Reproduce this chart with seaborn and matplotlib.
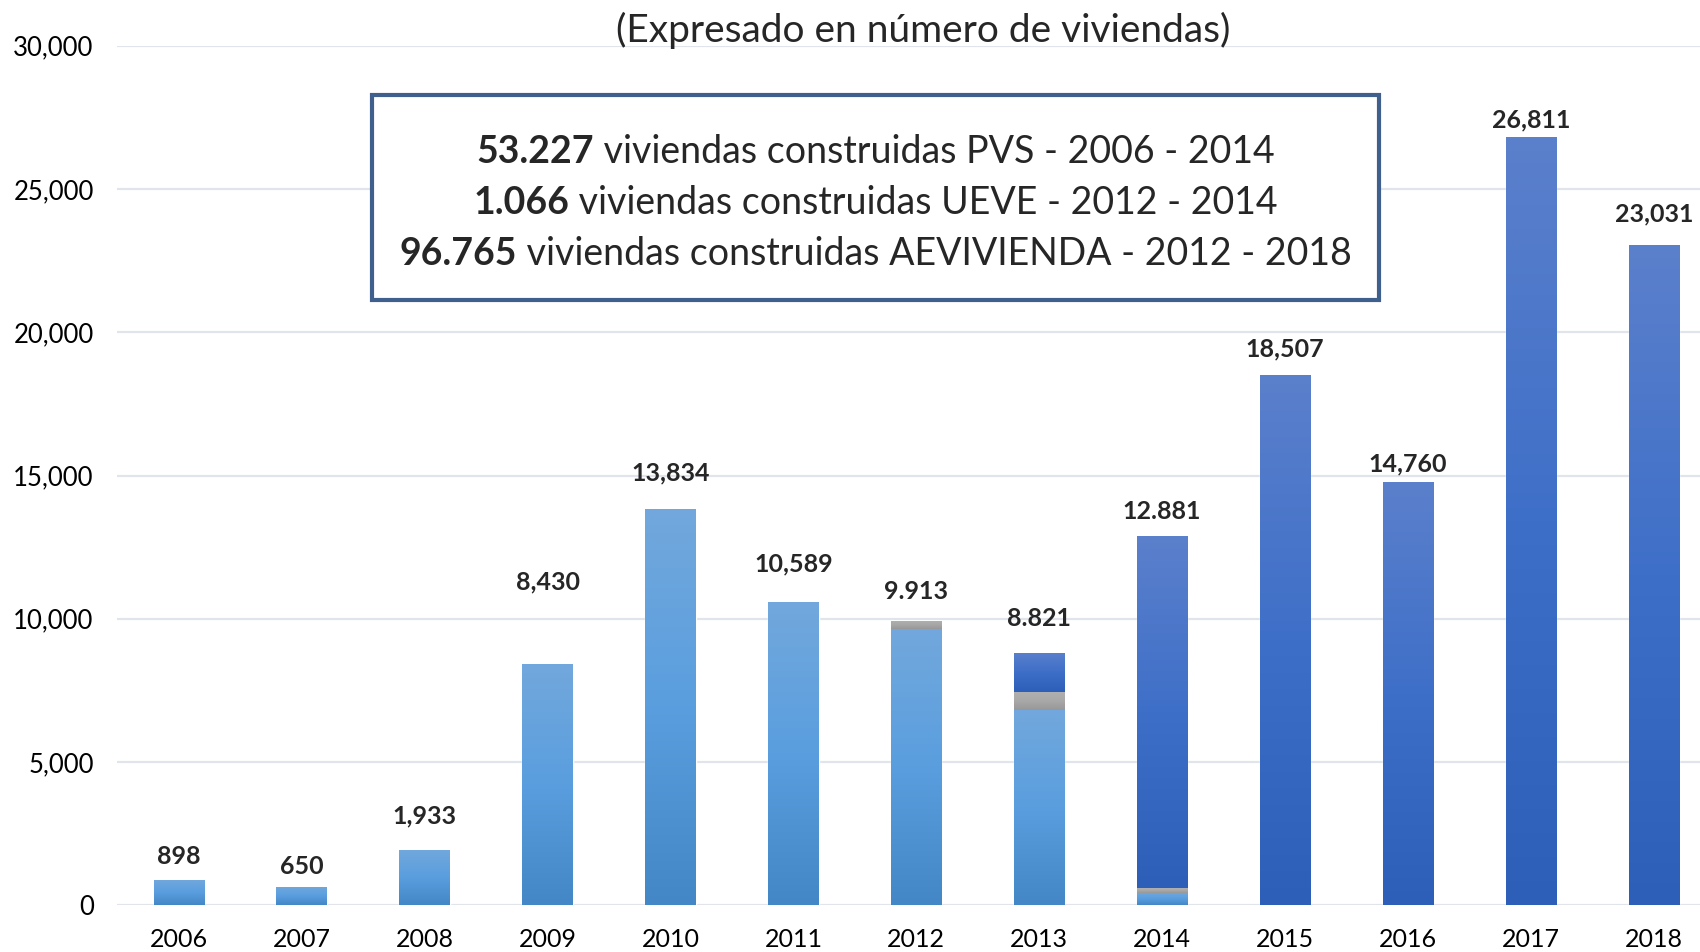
import numpy as np
import pandas as pd
import matplotlib
matplotlib.use("Agg")
import matplotlib.pyplot as plt
import matplotlib.patches as mpatches
from matplotlib.colors import LinearSegmentedColormap
import seaborn as sns

sns.set_style("white")
plt.rcParams['font.family'] = ['Lato', 'DejaVu Sans']

# Data
years = ["2006", "2007", "2008", "2009", "2010", "2011", "2012",
         "2013", "2014", "2015", "2016", "2017", "2018"]
pvs = [898, 650, 1933, 8430, 13834, 10589, 9633, 6830, 430, 0, 0, 0, 0]
ueve = [0, 0, 0, 0, 0, 0, 280, 616, 170, 0, 0, 0, 0]
aevivienda = [0, 0, 0, 0, 0, 0, 0, 1375, 12281, 18507, 14760, 26811, 23031]
labels = ["898", "650", "1,933", "8,430", "13,834", "10,589", "9.913",
          "8.821", "12.881", "18,507", "14,760", "26,811", "23,031"]
title = "(Expresado en número de viviendas)"
box_lines = [("53.227", " viviendas construidas PVS - 2006 - 2014"),
             ("1.066", " viviendas construidas UEVE - 2012 - 2014"),
             ("96.765", " viviendas construidas AEVIVIENDA - 2012 - 2018")]

# label distance above each bar (points), placed by hand in the original
label_pad = [16.4, 14.8, 24.2, 59.3, 25.7, 27.3, 21.8, 24.2, 17.9, 18.7, 13.3, 12.5, 22.6]

df = pd.DataFrame({"year": years, "pvs": pvs, "ueve": ueve, "aev": aevivienda})
df["base_aev"] = df["pvs"] + df["ueve"]
df["total"] = df["base_aev"] + df["aev"]

fig = plt.figure(figsize=(17, 9.52), dpi=100)
ax = fig.add_axes([0.069, 0.049, 0.94, 0.903])

bw = 0.41
sns.barplot(data=df, x="year", y="pvs", color="#5B9BD5", width=bw, saturation=1, ax=ax)
sns.barplot(data=df, x="year", y="ueve", bottom=df["pvs"], color="#A5A5A5", width=bw, saturation=1, ax=ax)
sns.barplot(data=df, x="year", y="aev", bottom=df["base_aev"], color="#4472C4", width=bw, saturation=1, ax=ax)

# vertical gradients on each segment, like the office-style fill
grads = {
    "pvs": LinearSegmentedColormap.from_list("g1", ["#4387C6", "#5A9EDF", "#72A8DC"]),
    "ueve": LinearSegmentedColormap.from_list("g2", ["#989898", "#A8A8A8", "#B0B0B0"]),
    "aev": LinearSegmentedColormap.from_list("g3", ["#2D5EB8", "#3E6FC8", "#5B80CC"]),
}
for cont, key in zip(ax.containers, ["pvs", "ueve", "aev"]):
    for bar in cont:
        h = bar.get_height()
        if h <= 0:
            continue
        x0, y0 = bar.get_x(), bar.get_y()
        bar.set_facecolor("none")
        img = ax.imshow(np.linspace(0, 1, 256).reshape(-1, 1), cmap=grads[key],
                        origin="lower", aspect="auto",
                        extent=[x0, x0 + bar.get_width(), y0, y0 + h], zorder=2)
        img.set_clip_path(bar)

ax.set_xlim(-0.5, 12.5)
ax.set_ylim(0, 30000)
ax.set_yticks(range(0, 30001, 5000))
ax.set_yticklabels([f"{v:,}" for v in range(0, 30001, 5000)])
ax.yaxis.grid(True, color="#E1E4EB", linewidth=1.6)
ax.set_axisbelow(True)
for s in ax.spines.values():
    s.set_visible(False)
ax.tick_params(axis="both", length=0, labelsize=18.5, colors="black")
ax.tick_params(axis="x", labelsize=18)
ax.tick_params(axis="y", pad=17)
ax.tick_params(axis="x", pad=16)
ax.set_xlabel("")
ax.set_ylabel("")

for i, (tot, lab, pad) in enumerate(zip(df["total"], labels, label_pad)):
    ax.annotate(lab, (i, tot), xytext=(0, pad), textcoords="offset points",
                ha="center", va="center", fontsize=18, fontweight="bold")

fig.text(0.543, 0.968, title, ha="center", va="center", fontsize=28)

# text box
box = mpatches.Rectangle((0.219, 0.685), 0.592, 0.215, transform=fig.transFigure,
                         facecolor="white", edgecolor="#3F5F8C", linewidth=3, zorder=5)
fig.add_artist(box)
renderer = fig.canvas.get_renderer()
cx = 0.515
for k, (b, n) in enumerate(box_lines):
    y = 0.840 - k * 0.0535
    tb = fig.text(0, y, b, ha="left", va="center", fontsize=27, fontweight="bold", zorder=6)
    tn = fig.text(0, y, n, ha="left", va="center", fontsize=27, zorder=6)
    wb = tb.get_window_extent(renderer).width / fig.bbox.width
    wn = tn.get_window_extent(renderer).width / fig.bbox.width
    x0 = cx - (wb + wn) / 2
    tb.set_x(x0)
    tn.set_x(x0 + wb)

plt.savefig("out.png", dpi=100)
plt.close()
